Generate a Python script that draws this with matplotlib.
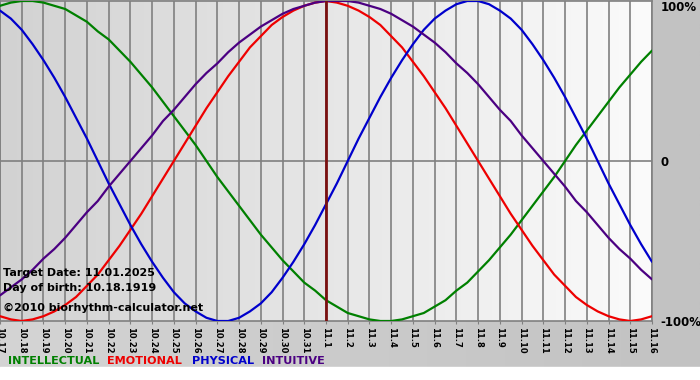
import matplotlib
matplotlib.use("Agg")
import matplotlib.pyplot as plt
import numpy as np
from matplotlib.colors import LinearSegmentedColormap

# day labels, 10.17 .. 11.16
days = ['10.17', '10.18', '10.19', '10.20', '10.21', '10.22', '10.23', '10.24',
        '10.25', '10.26', '10.27', '10.28', '10.29', '10.30', '10.31',
        '11.1', '11.2', '11.3', '11.4', '11.5', '11.6', '11.7', '11.8',
        '11.9', '11.10', '11.11', '11.12', '11.13', '11.14', '11.15', '11.16']

# cycle values every half day (-1 .. 1)
intellectual = [0.97, 0.99, 1.00, 1.00, 0.99, 0.97, 0.95, 0.91, 0.87, 0.81,
                0.76, 0.69, 0.62, 0.54, 0.46, 0.37, 0.28, 0.19, 0.10, 0.00,
                -0.10, -0.19, -0.28, -0.37, -0.46, -0.54, -0.62, -0.69, -0.76, -0.81,
                -0.87, -0.91, -0.95, -0.97, -0.99, -1.00, -1.00, -0.99, -0.97, -0.95,
                -0.91, -0.87, -0.81, -0.76, -0.69, -0.62, -0.54, -0.46, -0.37, -0.28,
                -0.19, -0.10, 0.00, 0.10, 0.19, 0.28, 0.37, 0.46, 0.54, 0.62, 0.69]
emotional = [-0.97, -0.99, -1.00, -0.99, -0.97, -0.94, -0.90, -0.85, -0.78, -0.71,
             -0.62, -0.53, -0.43, -0.33, -0.22, -0.11, 0.00, 0.11, 0.22, 0.33,
             0.43, 0.53, 0.62, 0.71, 0.78, 0.85, 0.90, 0.94, 0.97, 0.99,
             1.00, 0.99, 0.97, 0.94, 0.90, 0.85, 0.78, 0.71, 0.62, 0.53,
             0.43, 0.33, 0.22, 0.11, 0.00, -0.11, -0.22, -0.33, -0.43, -0.53,
             -0.62, -0.71, -0.78, -0.85, -0.90, -0.94, -0.97, -0.99, -1.00, -0.99, -0.97]
physical = [0.94, 0.89, 0.82, 0.73, 0.63, 0.52, 0.40, 0.27, 0.14, 0.00,
            -0.14, -0.27, -0.40, -0.52, -0.63, -0.73, -0.82, -0.89, -0.94, -0.98,
            -1.00, -1.00, -0.98, -0.94, -0.89, -0.82, -0.73, -0.63, -0.52, -0.40,
            -0.27, -0.14, 0.00, 0.14, 0.27, 0.40, 0.52, 0.63, 0.73, 0.82,
            0.89, 0.94, 0.98, 1.00, 1.00, 0.98, 0.94, 0.89, 0.82, 0.73,
            0.63, 0.52, 0.40, 0.27, 0.14, 0.00, -0.14, -0.27, -0.40, -0.52, -0.63]
intuitive = [-0.84, -0.79, -0.74, -0.68, -0.61, -0.55, -0.48, -0.40, -0.32, -0.25,
             -0.16, -0.08, 0.00, 0.08, 0.16, 0.25, 0.32, 0.40, 0.48, 0.55,
             0.61, 0.68, 0.74, 0.79, 0.84, 0.88, 0.92, 0.95, 0.97, 0.99,
             1.00, 1.00, 1.00, 0.99, 0.97, 0.95, 0.92, 0.88, 0.84, 0.79,
             0.74, 0.68, 0.61, 0.55, 0.48, 0.40, 0.32, 0.25, 0.16, 0.08,
             0.00, -0.08, -0.16, -0.25, -0.32, -0.40, -0.48, -0.55, -0.61, -0.68, -0.74]

target_idx = days.index('11.1')

series = [
    ('INTELLECTUAL', intellectual, '#008000'),
    ('EMOTIONAL', emotional, '#ee0000'),
    ('PHYSICAL', physical, '#0000cc'),
    ('INTUITIVE', intuitive, '#4b0082'),
]

W, H = 700, 380
fig = plt.figure(figsize=(W / 100, H / 100), dpi=100)

# outer background
bg = fig.add_axes([0, 0, 1, 1])
bg.set_axis_off()
outer = LinearSegmentedColormap.from_list('outer', ['#d4d4d4', '#c2c2c2'])
bg.imshow(np.linspace(0, 1, 256).reshape(1, -1), cmap=outer, aspect='auto',
          extent=[0, 1, 0, 1])
bg.add_patch(plt.Rectangle((0, 0), 1, 13 / H, color='white', zorder=3))
bg.set_xlim(0, 1)
bg.set_ylim(0, 1)

ax = fig.add_axes([0, 1 - 321 / H, 652 / W, 320 / H])
x = np.arange(len(days))
xs = np.arange(len(physical)) / 2
ax.set_xlim(0, len(days) - 1)
ax.set_ylim(-1.0, 1.0)

inner = LinearSegmentedColormap.from_list('inner', ['#d2d2d2', '#fbfbfb'])
ax.imshow(np.linspace(0, 1, 256).reshape(1, -1), cmap=inner, aspect='auto',
          extent=[0, len(days) - 1, -1, 1], zorder=0)

for xi in x:
    ax.axvline(xi, color='#808080', lw=1.2, zorder=1)
ax.axhline(0, color='#808080', lw=1.2, zorder=1)
ax.axvline(target_idx, color='#7a1010', lw=2, zorder=4)

for name, vals, col in series:
    ax.plot(xs, vals, color=col, lw=1.6, zorder=3, solid_capstyle='round')

for s in ax.spines.values():
    s.set_color('#808080')
    s.set_linewidth(1.2)

ax.set_xticks(x)
ax.set_xticklabels(days, rotation=270, fontsize=6, fontweight='bold',
                   family='DejaVu Sans')
ax.tick_params(axis='x', length=2, color='#808080', pad=2)

ax.yaxis.tick_right()
ax.set_yticks([-1, 0, 1])
ax.set_yticklabels(['-100%', '0', '100%'], fontsize=8.5, fontweight='bold')
ax.tick_params(axis='y', length=0, pad=6)
ax.get_yticklabels()[2].set_va('top')

info = ['Target Date: 11.01.2025', 'Day of birth: 10.18.1919']
ax.text(3 / 652, 1 - 272 / 320, info[0], transform=ax.transAxes,
        fontsize=8, fontweight='bold', va='center', zorder=5)
ax.text(3 / 652, 1 - 287 / 320, info[1], transform=ax.transAxes,
        fontsize=8, fontweight='bold', va='center', zorder=5)
ax.text(3 / 652, 1 - 307 / 320, '\u00a92010 biorhythm-calculator.net',
        transform=ax.transAxes, fontsize=8, fontweight='bold', va='center', zorder=5)

# legend words
leg_x = [8, 107, 192, 262]
for (name, vals, col), lx in zip(series, leg_x):
    fig.text(lx / W, 1 - 361 / H, name, color=col, fontsize=8.1,
             fontweight='bold', va='center')

fig.savefig('out.png', dpi=100)
